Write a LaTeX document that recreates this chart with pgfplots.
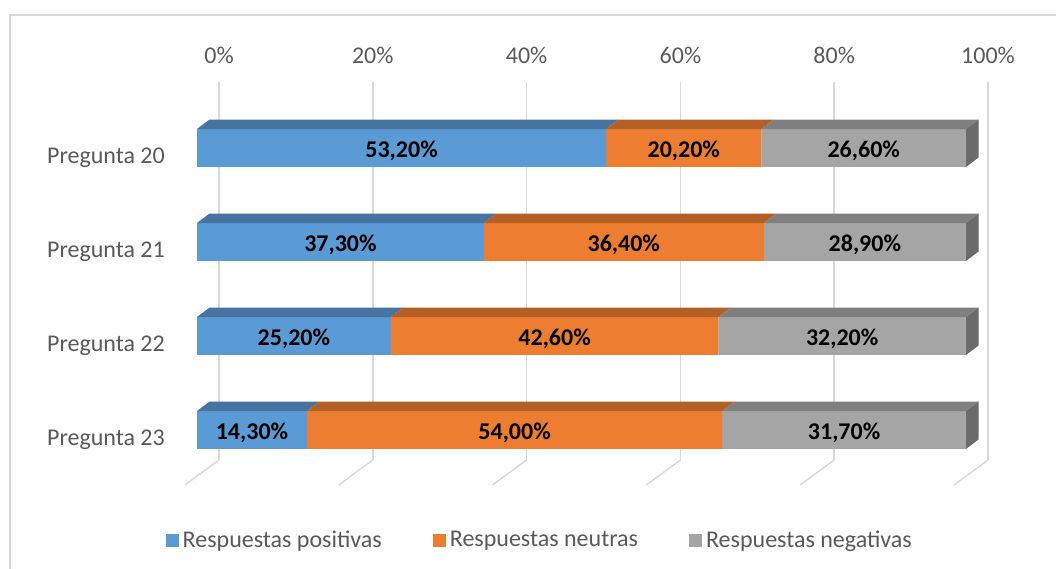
\documentclass[border=0pt]{standalone}
\usepackage{fontspec}
\setmainfont{Carlito}
\usepackage{pgfplots}
\usepackage{pgfplotstable}
\pgfplotsset{compat=1.18}
\definecolor{cBlue}{HTML}{5B9BD5}
\definecolor{cBlueT}{HTML}{4673A0}
\definecolor{cOrange}{HTML}{ED7D31}
\definecolor{cOrangeT}{HTML}{B45F25}
\definecolor{cGray}{HTML}{A5A5A5}
\definecolor{cGrayT}{HTML}{7F7F7F}
\definecolor{cGrayS}{HTML}{6B6B6B}
\definecolor{gridc}{HTML}{D9D9D9}
\definecolor{labc}{HTML}{595959}

\pgfplotstableread{
y pos neu neg
3 53.2 20.2 26.6
2 37.3 36.4 28.9
1 25.2 42.6 32.2
0 14.3 54.0 31.7
}\datatable

\begin{document}
\fontsize{24}{29}\selectfont
\begin{tikzpicture}
\useasboundingbox (0,0) rectangle (1056pt,569pt);
\draw[gridc, line width=2pt] (10pt,0pt) -- (10pt,554pt) -- (1056pt,554pt);

% back wall: gridlines and top tick labels
\begin{axis}[
  at={(219pt,109pt)}, anchor=south west, scale only axis,
  width=769pt, height=378pt,
  xmin=0, xmax=100, ymin=0, ymax=1,
  axis line style={draw=none}, tick style={draw=none},
  ytick=\empty,
  xtick={0,20,40,60,80,100},
  xticklabels={0\%,20\%,40\%,60\%,80\%,100\%},
  xticklabel pos=upper,
  xmajorgrids, grid style={draw=gridc, line width=1.5pt},
  xticklabel style={text=labc, anchor=south, inner sep=0pt, yshift=18pt},
  clip=false,
]
\addplot[gridc, line width=1.5pt] coordinates {(0,0) (-4.42,-0.066)};
\addplot[gridc, line width=1.5pt] coordinates {(20,0) (15.58,-0.066)};
\addplot[gridc, line width=1.5pt] coordinates {(40,0) (35.58,-0.066)};
\addplot[gridc, line width=1.5pt] coordinates {(60,0) (55.58,-0.066)};
\addplot[gridc, line width=1.5pt] coordinates {(80,0) (75.58,-0.066)};
\addplot[gridc, line width=1.5pt] coordinates {(100,0) (95.58,-0.066)};
\end{axis}

% front faces of the bars
\begin{axis}[
  at={(197pt,92pt)}, anchor=south west, scale only axis,
  width=769pt, height=376pt,
  xmin=0, xmax=100, ymin=-0.5, ymax=3.5,
  xbar stacked, bar width=38pt,
  axis line style={draw=none}, tick style={draw=none},
  xtick=\empty,
  ytick={0,1,2,3},
  yticklabels={Pregunta 23,Pregunta 22,Pregunta 21,Pregunta 20},
  yticklabel style={text=labc, anchor=east, xshift=-24pt, yshift=-10pt},
  legend style={at={(0.447,-0.170)}, anchor=center, draw=none, fill=none,
    legend columns=3, text=labc, nodes={inner sep=4pt},
    /tikz/every even column/.append style={column sep=47pt}},
  legend image code/.code={\fill[#1, draw=none] (0pt,-6.5pt) rectangle (13pt,6.5pt);},
]
\addplot[fill=cBlue, draw=none] table[x=pos, y=y] {\datatable};
\addplot[fill=cOrange, draw=none] table[x=neu, y=y] {\datatable};
\addplot[fill=cGray, draw=none] table[x=neg, y=y] {\datatable};
\legend{Respuestas positivas, Respuestas neutras, Respuestas negativas}
\end{axis}

% 3D top and side faces, value labels
\begin{axis}[
  at={(197pt,92pt)}, anchor=south west, scale only axis,
  width=769pt, height=376pt,
  xmin=0, xmax=100, ymin=-0.5, ymax=3.5,
  hide axis, clip=false,
]
% Pregunta 20
\addplot[fill=cBlueT, draw=none, forget plot] coordinates {(0,3.202) (1.63,3.303) (54.83,3.303) (53.2,3.202)};
\addplot[fill=cOrangeT, draw=none, forget plot] coordinates {(53.2,3.202) (54.83,3.303) (75.03,3.303) (73.4,3.202)};
\addplot[fill=cGrayT, draw=none, forget plot] coordinates {(73.4,3.202) (75.03,3.303) (101.63,3.303) (100,3.202)};
\addplot[fill=cGrayS, draw=none, forget plot] coordinates {(100,2.798) (100,3.202) (101.63,3.303) (101.63,2.899)};
% Pregunta 21
\addplot[fill=cBlueT, draw=none, forget plot] coordinates {(0,2.202) (1.63,2.303) (38.93,2.303) (37.3,2.202)};
\addplot[fill=cOrangeT, draw=none, forget plot] coordinates {(37.3,2.202) (38.93,2.303) (75.33,2.303) (73.7,2.202)};
\addplot[fill=cGrayT, draw=none, forget plot] coordinates {(73.7,2.202) (75.33,2.303) (101.63,2.303) (100,2.202)};
\addplot[fill=cGrayS, draw=none, forget plot] coordinates {(100,1.798) (100,2.202) (101.63,2.303) (101.63,1.899)};
% Pregunta 22
\addplot[fill=cBlueT, draw=none, forget plot] coordinates {(0,1.202) (1.63,1.303) (26.83,1.303) (25.2,1.202)};
\addplot[fill=cOrangeT, draw=none, forget plot] coordinates {(25.2,1.202) (26.83,1.303) (69.43,1.303) (67.8,1.202)};
\addplot[fill=cGrayT, draw=none, forget plot] coordinates {(67.8,1.202) (69.43,1.303) (101.63,1.303) (100,1.202)};
\addplot[fill=cGrayS, draw=none, forget plot] coordinates {(100,0.798) (100,1.202) (101.63,1.303) (101.63,0.899)};
% Pregunta 23
\addplot[fill=cBlueT, draw=none, forget plot] coordinates {(0,0.202) (1.63,0.303) (15.93,0.303) (14.3,0.202)};
\addplot[fill=cOrangeT, draw=none, forget plot] coordinates {(14.3,0.202) (15.93,0.303) (69.93,0.303) (68.3,0.202)};
\addplot[fill=cGrayT, draw=none, forget plot] coordinates {(68.3,0.202) (69.93,0.303) (101.63,0.303) (100,0.202)};
\addplot[fill=cGrayS, draw=none, forget plot] coordinates {(100,-0.202) (100,0.202) (101.63,0.303) (101.63,-0.101)};

% value labels, centred in the visible part of each segment
\pgfplotsset{
  vlab/.style={draw=none, mark=none, forget plot, point meta=explicit,
    nodes near coords={\pgfmathprintnumber[fixed, fixed zerofill, precision=2, use comma, assume math mode=true]{\pgfplotspointmeta}\%},
    nodes near coords style={anchor=center, font=\bfseries, text=black, yshift=-3pt}}
}
\addplot[vlab] table[x expr={\thisrow{pos}/2}, y=y, meta=pos] {\datatable};
\addplot[vlab] table[x expr={\thisrow{pos}+\thisrow{neu}/2}, y=y, meta=neu] {\datatable};
\addplot[vlab] table[x expr={(\thisrow{pos}+\thisrow{neu}+min(100,\thisrow{pos}+\thisrow{neu}+\thisrow{neg}))/2}, y=y, meta=neg] {\datatable};
\end{axis}
\end{tikzpicture}
\end{document}
